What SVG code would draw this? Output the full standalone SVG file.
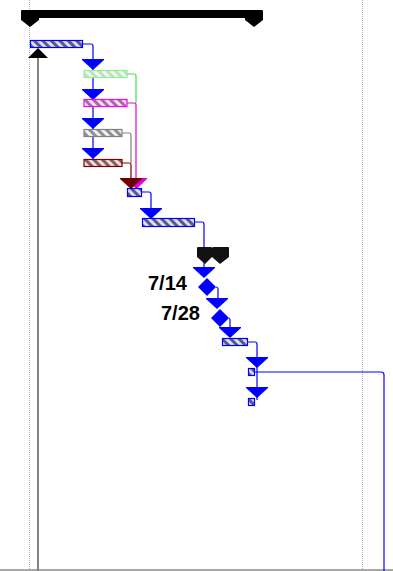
<svg xmlns="http://www.w3.org/2000/svg" width="393" height="571" viewBox="0 0 393 571">
<defs>
<pattern id="hb" width="6" height="6" patternUnits="userSpaceOnUse" patternTransform="rotate(-45)">
<rect width="6" height="6" fill="#dcdcf6"/><rect width="3" height="6" fill="#5a5a80"/></pattern>
<pattern id="hg" width="6" height="6" patternUnits="userSpaceOnUse" patternTransform="rotate(-45)">
<rect width="6" height="6" fill="#eafcea"/><rect width="3" height="6" fill="#c8dcc8"/></pattern>
<pattern id="hm" width="6" height="6" patternUnits="userSpaceOnUse" patternTransform="rotate(-45)">
<rect width="6" height="6" fill="#fcdcfc"/><rect width="3" height="6" fill="#a070a0"/></pattern>
<pattern id="hy" width="6" height="6" patternUnits="userSpaceOnUse" patternTransform="rotate(-45)">
<rect width="6" height="6" fill="#f0f0f0"/><rect width="3" height="6" fill="#909090"/></pattern>
<pattern id="hr" width="6" height="6" patternUnits="userSpaceOnUse" patternTransform="rotate(-45)">
<rect width="6" height="6" fill="#f2dcdc"/><rect width="3" height="6" fill="#806060"/></pattern>
</defs>
<style>
.grid{stroke:#b0b0b0;stroke-width:1;stroke-dasharray:1 1;fill:none}
.c{fill:none;stroke-width:1.2}
.bar{stroke-width:1.2}
.arr{fill:#0000ff}
.lbl{font-family:"Liberation Sans",Arial,sans-serif;font-weight:bold;font-size:20px;fill:#000}
</style>
<rect width="393" height="571" fill="#fff"/>
<g id="grid">
<line class="grid" x1="29.5" y1="0" x2="29.5" y2="571"/>
<line class="grid" x1="362.5" y1="0" x2="362.5" y2="571"/>
<line x1="0" y1="570" x2="393" y2="570" stroke="#a8a8a8" stroke-width="2"/>
</g>
<g id="deadline">
<line x1="38" y1="56" x2="38" y2="571" stroke="#858585" stroke-width="2"/>
<polygon points="38,48 48,58 28,58" fill="#000"/>
</g>
<g id="summary">
<rect x="30" y="10" width="224" height="8" fill="#000"/>
<path d="M22,10 H38 Q39,10 39,11 V20 L30,27 L21,20 V11 Q21,10 22,10 Z" fill="#000"/>
<path d="M246,10 H262 Q263,10 263,11 V20 L254,27 L245,20 V11 Q245,10 246,10 Z" fill="#000"/>
</g>
<g id="connectors">
<path class="c" stroke="#0000ff" d="M83,44 H91 Q93,44 93,46 V160"/>
<path class="c" stroke="#40e040" d="M127,74 H134 Q136,74 136,76 V103"/>
<path class="c" stroke="#e000e0" d="M127,103 H134 Q136,103 136,105 V180"/>
<path class="c" stroke="#808080" d="M122,133 H129 Q131,133 131,135 V163"/>
<path class="c" stroke="#800000" d="M122,163 H129 Q131,163 131,165 V180"/>
<path class="c" stroke="#0000ff" d="M142,192 H149 Q151,192 151,194 V210"/>
<path class="c" stroke="#0000ff" d="M195,222 H202 Q204,222 204,224 V268"/>
<path class="c" stroke="#0000ff" d="M216,287 H216 Q218,287 218,289 V300"/>
<path class="c" stroke="#0000ff" d="M229,318 H229 Q230,318 230,320 V330"/>
<path class="c" stroke="#0000ff" d="M248,342 H255 Q257,342 257,344 V400"/>
<path class="c" stroke="#0000ff" d="M255,372 H381 Q384,372 384,375 V571"/>
</g>
<g id="arrows">
<polygon class="arr" points="82,59 104,59 104,60 93,70 82,60"/>
<polygon class="arr" points="82,89 104,89 104,90 93,100 82,90"/>
<polygon class="arr" points="82,118 104,118 104,119 93,129 82,119"/>
<polygon class="arr" points="82,148 104,148 104,149 93,159 82,149"/>
<polygon fill="#e000e0" points="126,178 147,178 147,179 136.5,189 126,179"/>
<polygon fill="#700000" points="120,178 142,178 142,179 131,189 120,179"/>
<polygon class="arr" points="140,208 162,208 162,209 151,219 140,209"/>
<polygon class="arr" points="193,267 215,267 215,268 204,278 193,268"/>
<polygon class="arr" points="206,298 228,298 228,299 217,309 206,299"/>
<polygon class="arr" points="219,327 241,327 241,328 230,338 219,328"/>
<polygon class="arr" points="246,357 268,357 268,358 257,368 246,358"/>
<polygon class="arr" points="246,387 268,387 268,388 257,398 246,388"/>
</g>
<g id="task1"><rect class="bar" x="30.5" y="40.5" width="52" height="7" fill="url(#hb)" stroke="#0000ff"/></g>
<g id="task2"><rect class="bar" x="84" y="70.5" width="43" height="7" fill="url(#hg)" stroke="#90f090"/></g>
<g id="task3"><rect class="bar" x="84" y="99.5" width="43" height="7" fill="url(#hm)" stroke="#ff00ff"/></g>
<g id="task4"><rect class="bar" x="84" y="129.5" width="38" height="7" fill="url(#hy)" stroke="#808080"/></g>
<g id="task5"><rect class="bar" x="84" y="159.5" width="38" height="7" fill="url(#hr)" stroke="#800000"/></g>
<g id="task6"><rect class="bar" x="127.5" y="188.5" width="14" height="8" fill="url(#hb)" stroke="#0000ff"/></g>
<g id="task7"><rect class="bar" x="142.5" y="218.5" width="52" height="8" fill="url(#hb)" stroke="#0000ff"/></g>
<g id="milestones-black">
<path d="M198,247 H211 Q212,247 212,248 V257 L205,264 L197,257 V248 Q197,247 198,247 Z" fill="#111"/>
<path d="M214,247 H228 Q229,247 229,248 V257 L220,264 L212,257 V248 Q212,247 214,247 Z" fill="#111"/>
</g>
<g id="ms1">
<polygon points="207,278 216,287 207,296 198,287" fill="#0000ff"/>
<text class="lbl" x="148" y="290">7/14</text>
</g>
<g id="ms2">
<polygon points="220,309 229,318 220,327 211,318" fill="#0000ff"/>
<text class="lbl" x="161" y="320">7/28</text>
</g>
<g id="task8"><rect class="bar" x="222.5" y="338.5" width="25" height="7" fill="url(#hb)" stroke="#0000ff"/></g>
<g id="task9"><rect class="bar" x="248.5" y="368.5" width="6" height="7" fill="url(#hb)" stroke="#0000ff"/></g>
<g id="task10"><rect class="bar" x="248.5" y="398.5" width="6" height="7" fill="url(#hb)" stroke="#0000ff"/></g>
</svg>
